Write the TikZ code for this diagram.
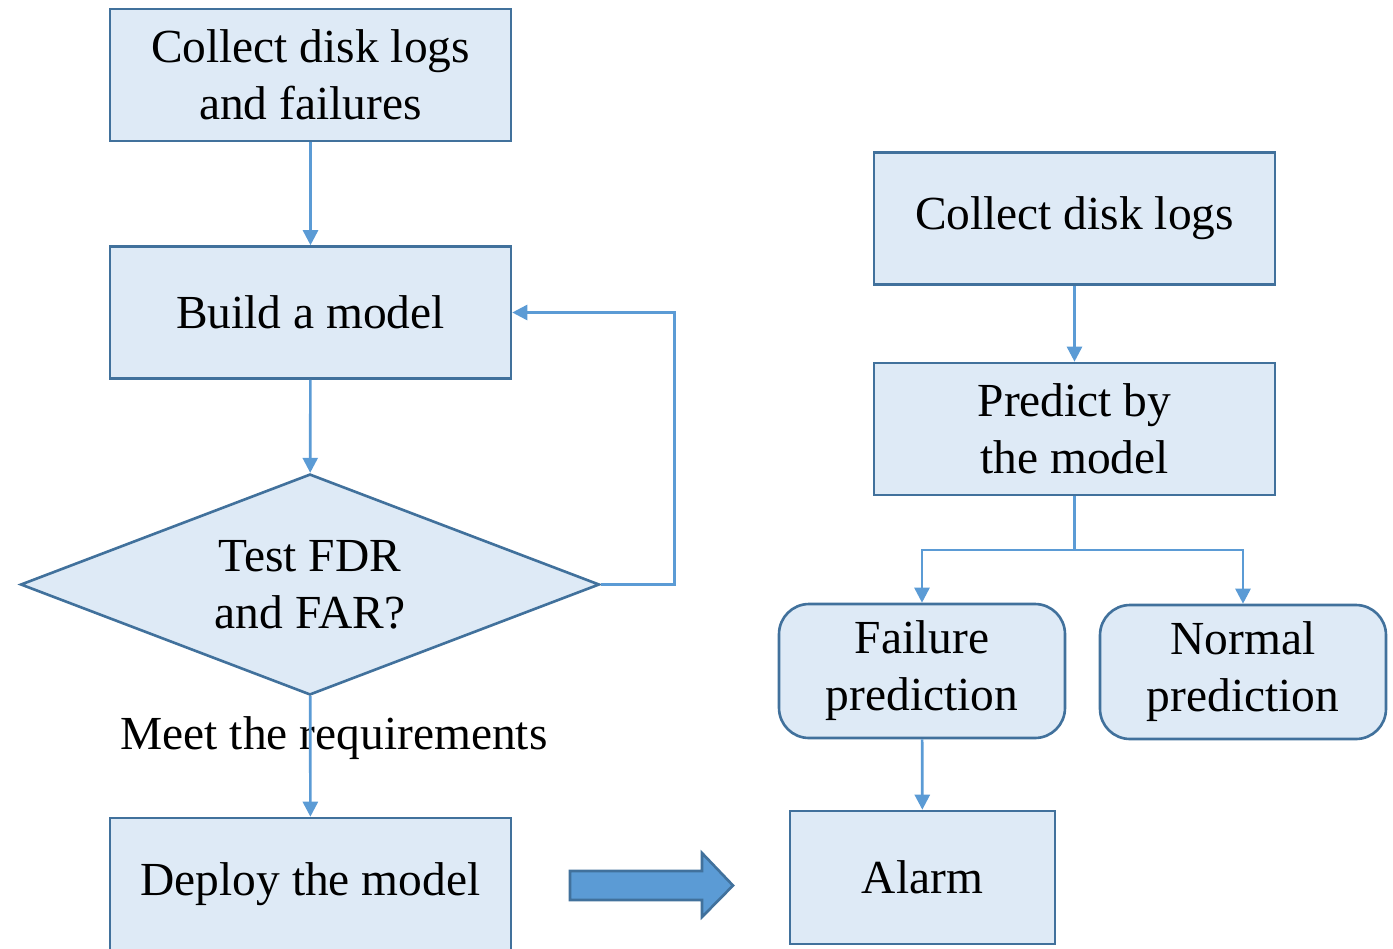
\documentclass[tikz,border=0pt]{standalone}
\usepackage{fontspec}
\setmainfont{Liberation Serif}
\usetikzlibrary{shapes.geometric, arrows.meta}

\definecolor{boxfill}{HTML}{DEEAF6}
\definecolor{boxline}{HTML}{41719C}
\definecolor{flowline}{HTML}{5B9BD5}

\tikzset{
  base/.style={draw=boxline, fill=boxfill, line width=1.5pt, align=center,
    inner sep=0pt, font=\fontsize{27}{32.5}\selectfont},
  stepbox/.style={base, minimum width=8.02cm, minimum height=2.64cm},
  roundbox/.style={base, rounded corners=0.6cm, minimum width=5.72cm, minimum height=2.68cm},
  decision/.style={base, diamond, aspect=2.6, minimum width=11.58cm, minimum height=4.42cm},
  flow/.style={draw=flowline, line width=1.5pt, -{Triangle[width=0.3cm,length=0.3cm]}}
}

\begin{document}
\begin{tikzpicture}[x=0.02cm, y=-0.02cm]

\clip (0,0) rectangle (1393,948);
\useasboundingbox (0,0) rectangle (1393,948);

% left column
\node[stepbox] (collect) at (310.5, 75) {Collect disk logs\\and failures};
\node[stepbox] (build) at (310.5, 312.5) {Build a model};
\node[decision] (test) at (310, 584.5) {Test FDR\\and FAR?};
\node[stepbox] (deploy) at (310.5, 884) {Deploy the model};
\node[font=\fontsize{27}{32.5}\selectfont] (meet) at (334, 738) {Meet the requirements};

\draw[flow] (collect) -- (build);
\draw[flow] (build) -- (test);
\draw[flow] (test) -- (deploy);
\draw[flow] (test.east) -- ++(74,0) |- (build.east);

% right column
\node[stepbox] (logs) at (1074.5, 218.5) {Collect disk logs};
\node[stepbox] (predict) at (1074.5, 429) {Predict by\\the model};
\node[roundbox] (failure) at (922, 671) {Failure\\prediction};
\node[roundbox] (normal) at (1243, 672) {Normal\\prediction};
\node[base, minimum width=5.3cm, minimum height=2.66cm] (alarm) at (922.5, 877.5) {Alarm};

\coordinate (split) at (1074.5, 550);

\draw[flow] (logs) -- (predict);
\draw[draw=flowline, line width=1.5pt] (predict.south) -- (split);
\draw[flow] (split) -| (failure.north);
\draw[flow] (split) -| (normal.north);
\draw[flow] (failure) -- (alarm);

% big arrow
\filldraw[fill=flowline, draw=boxline, line width=1.5pt]
  (570,871) -- (702,871) -- (702,853) -- (733,885.5) -- (702,917) -- (702,900) -- (570,900) -- cycle;

\end{tikzpicture}
\end{document}
